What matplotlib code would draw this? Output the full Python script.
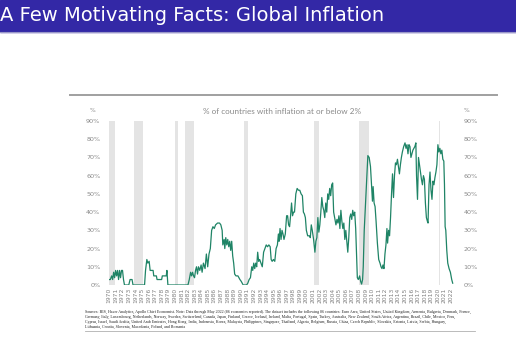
import matplotlib.pyplot as plt

# share of countries with inflation at or below 2%
years = [1970.0, 1970.2, 1970.4, 1970.55, 1970.7, 1970.85, 1971.0, 1971.15, 1971.3, 1971.45,
         1971.6, 1971.75, 1971.9, 1972.05, 1972.2, 1972.35, 1973.0, 1973.2, 1973.5, 1973.65,
         1975.4, 1975.55, 1975.75, 1975.9, 1976.1, 1976.25, 1976.7, 1976.8, 1977.2, 1977.3,
         1978.0, 1978.1, 1978.7, 1978.8, 1978.95, 1982.0, 1982.2, 1982.4, 1982.55, 1982.7,
         1982.85, 1983.0, 1983.15, 1983.3, 1983.45, 1983.6, 1983.8, 1984.0, 1984.15, 1984.35,
         1984.6, 1984.8, 1985.0, 1985.2, 1985.4, 1985.6, 1985.8, 1986.0, 1986.2, 1986.5,
         1986.8, 1987.0, 1987.2, 1987.3, 1987.5, 1987.6, 1987.75, 1987.9, 1988.05, 1988.2,
         1988.35, 1988.5, 1988.65, 1988.8, 1988.95, 1989.1, 1989.3, 1989.6, 1989.9, 1990.1,
         1990.4, 1990.9, 1991.1, 1991.3, 1991.5, 1991.7, 1991.85, 1992.0, 1992.15, 1992.3,
         1992.45, 1992.6, 1992.75, 1992.9, 1993.1, 1993.3, 1993.5, 1993.7, 1993.9, 1994.1,
         1994.3, 1994.5, 1994.65, 1994.8, 1995.0, 1995.2, 1995.4, 1995.6, 1995.75, 1995.85,
         1996.0, 1996.15, 1996.3, 1996.45, 1996.6, 1996.8, 1997.0, 1997.15, 1997.3, 1997.45,
         1997.6, 1997.75, 1997.9, 1998.05, 1998.2, 1998.4, 1998.6, 1998.8, 1999.0, 1999.2,
         1999.4, 1999.55, 1999.7, 1999.85, 2000.0, 2000.2, 2000.45, 2000.6, 2000.75, 2000.9,
         2001.1, 2001.3, 2001.45, 2001.6, 2001.75, 2001.9, 2002.05, 2002.2, 2002.35, 2002.5,
         2002.65, 2002.8, 2002.95, 2003.1, 2003.25, 2003.4, 2003.55, 2003.7, 2003.85, 2004.0,
         2004.15, 2004.3, 2004.5, 2004.65, 2004.8, 2004.95, 2005.1, 2005.25, 2005.4, 2005.55,
         2005.7, 2005.85, 2006.0, 2006.15, 2006.3, 2006.45, 2006.6, 2006.75, 2006.9, 2007.05,
         2007.2, 2007.35, 2007.5, 2007.6, 2007.75, 2007.9, 2008.1, 2008.25, 2008.4, 2008.55,
         2008.65, 2008.8, 2008.95, 2009.15, 2009.35, 2009.55, 2009.75, 2009.9, 2010.05, 2010.15,
         2010.3, 2010.45, 2010.6, 2010.8, 2011.0, 2011.2, 2011.35, 2011.5, 2011.65, 2011.8,
         2011.95, 2012.1, 2012.25, 2012.35, 2012.5, 2012.65, 2012.8, 2012.95, 2013.1, 2013.25,
         2013.4, 2013.55, 2013.7, 2013.85, 2014.0, 2014.15, 2014.3, 2014.45, 2014.6, 2014.8,
         2015.0, 2015.15, 2015.3, 2015.45, 2015.6, 2015.75, 2015.9, 2016.05, 2016.2, 2016.35,
         2016.5, 2016.65, 2016.75, 2016.9, 2017.05, 2017.2, 2017.35, 2017.5, 2017.65, 2017.8,
         2017.95, 2018.1, 2018.25, 2018.4, 2018.5, 2018.65, 2018.8, 2018.95, 2019.1, 2019.25,
         2019.4, 2019.55, 2019.7, 2019.85, 2020.0, 2020.15, 2020.3, 2020.45, 2020.6, 2020.75,
         2020.9, 2021.0, 2021.1, 2021.2, 2021.35, 2021.5, 2021.7, 2021.9, 2022.1, 2022.25]
share = [3, 3, 5, 3, 7, 4, 8, 5, 8, 3,
         8, 4, 8, 8, 3, 0, 0, 3, 3, 0,
         0, 8, 14, 12, 13, 8, 8, 5, 5, 3,
         3, 5, 5, 8, 0, 0, 3, 7, 5, 7,
         5, 4, 8, 10, 6, 10, 8, 11, 7, 12,
         9, 17, 10, 17, 20, 30, 32, 31, 33, 34,
         34, 33, 30, 22, 25, 20, 26, 22, 25, 21,
         24, 19, 24, 16, 12, 6, 5, 5, 3, 2,
         0, 0, 1, 3, 4, 10, 8, 12, 9, 12,
         10, 18, 13, 14, 12, 10, 18, 20, 22, 21,
         22, 21, 14, 13, 14, 13, 20, 22, 28, 24,
         31, 25, 30, 28, 25, 28, 38, 38, 33, 32,
         38, 45, 38, 40, 40, 50, 53, 52, 52, 50,
         49, 40, 39, 37, 30, 27, 27, 26, 33, 30,
         25, 18, 24, 26, 37, 29, 33, 40, 48, 43,
         41, 37, 45, 40, 50, 47, 53, 49, 55, 56,
         40, 37, 33, 36, 34, 38, 31, 41, 35, 31,
         34, 25, 30, 24, 18, 26, 37, 39, 36, 41,
         38, 40, 31, 20, 4, 3, 5, 2, 0.5, 3,
         10, 30, 41, 55, 71, 70, 65, 55, 46, 54,
         45, 43, 35, 23, 14, 12, 10, 9, 11, 9,
         17, 22, 31, 23, 30, 27, 37, 50, 61, 48,
         60, 67, 66, 69, 65, 61, 66, 70, 73, 76,
         78, 75, 77, 72, 77, 76, 70, 72, 74, 75,
         76, 78, 60, 47, 70, 66, 62, 58, 55, 60,
         58, 45, 37, 35, 34, 55, 62, 52, 47, 57,
         55, 59, 62, 66, 77, 73, 75, 72, 74, 69,
         68, 55, 32, 30, 19, 12, 9, 7, 3, 1]

# US recessions (shaded)
rec_start = [1969.95, 1973.85, 1980.0, 1981.5, 1990.55, 2001.2, 2007.95, 2020.1]
rec_end = [1970.85, 1975.2, 1980.5, 1982.85, 1991.2, 2001.85, 2009.45, 2020.35]

year_labels = [str(y) for y in range(1970, 2023)]
pct_ticks = list(range(0, 91, 10))

source = ("Sources: BIS, Haver Analytics, Apollo Chief Economist. Note: Data through May 2022 (86 economies reported). "
          "The dataset includes the following 86 countries: Euro Area, United States, United Kingdom, Armenia, Bulgaria, Denmark, France,\n"
          "Germany, Italy, Luxembourg, Netherlands, Norway, Sweden, Switzerland, Canada, Japan, Finland, Greece, Iceland, Ireland, "
          "Malta, Portugal, Spain, Turkey, Australia, New Zealand, South Africa, Argentina, Brazil, Chile, Mexico, Peru,\n"
          "Cyprus, Israel, Saudi Arabia, United Arab Emirates, Hong Kong, India, Indonesia, Korea, Malaysia, Philippines, "
          "Singapore, Thailand, Algeria, Belgium, Russia, China, Czech Republic, Slovakia, Estonia, Latvia, Serbia, Hungary,\n"
          "Lithuania, Croatia, Slovenia, Macedonia, Poland, and Romania")

fig = plt.figure(figsize=(5.16, 3.64), dpi=100)

# slide title bar
fig.patches.append(plt.Rectangle((0, 0.913), 1, 0.087, transform=fig.transFigure,
                                 color='#3328a6', zorder=0))
fig.add_artist(plt.Line2D([0, 1], [0.912, 0.912], color='#9a98c8', lw=0.8))
fig.text(0.0, 0.957, 'A Few Motivating Facts: Global Inflation', color='white',
         fontsize=14, family='DejaVu Sans', va='center', ha='left')

# chart frame lines
fig.add_artist(plt.Line2D([70 / 516, 497 / 516], [1 - 94.5 / 364, 1 - 94.5 / 364],
                          color='#a0a0a0', lw=1.4))
fig.add_artist(plt.Line2D([85 / 516, 475 / 516], [1 - 331 / 364, 1 - 331 / 364],
                          color='#b0b0b0', lw=0.6))

ax = fig.add_axes([108.7 / 516, 79 / 364, 346.3 / 516, 164 / 364])

for s, e in zip(rec_start, rec_end):
    ax.axvspan(s, e, color='#e4e4e4', lw=0, zorder=0)

ax.plot(years, share, color='#1f8466', lw=0.9, zorder=2)

ax.set_xlim(1969.95, 2022.6)
ax.set_ylim(0, 90)
ax.set_xticks(range(1970, 2023))
ax.set_xticklabels(year_labels, rotation=90, fontsize=4.3, color='#808080')
ax.set_yticks(pct_ticks)
ax.set_yticklabels([f'{p}%' for p in pct_ticks], fontsize=4.6, color='#8a8a8a')
ax.tick_params(axis='both', length=0)
ax.tick_params(axis='x', pad=2)
ax.tick_params(axis='y', pad=6, labelright=True)
for sp in ax.spines.values():
    sp.set_visible(False)

ax.set_title('% of countries with inflation at or below 2%', fontsize=5.9,
             color='#8a8a8a', family='Lato', pad=5)
fig.text(92 / 516, 1 - 111 / 364, '%', fontsize=4.3, color='#8a8a8a', ha='center', va='center')
fig.text(466 / 516, 1 - 111 / 364, '%', fontsize=4.3, color='#8a8a8a', ha='center', va='center')

fig.text(85 / 516, 1 - 310 / 364, source, fontsize=2.9, family='Liberation Serif',
         color='#222222', ha='left', va='top', linespacing=1.25)

plt.savefig('out.png', dpi=100)
